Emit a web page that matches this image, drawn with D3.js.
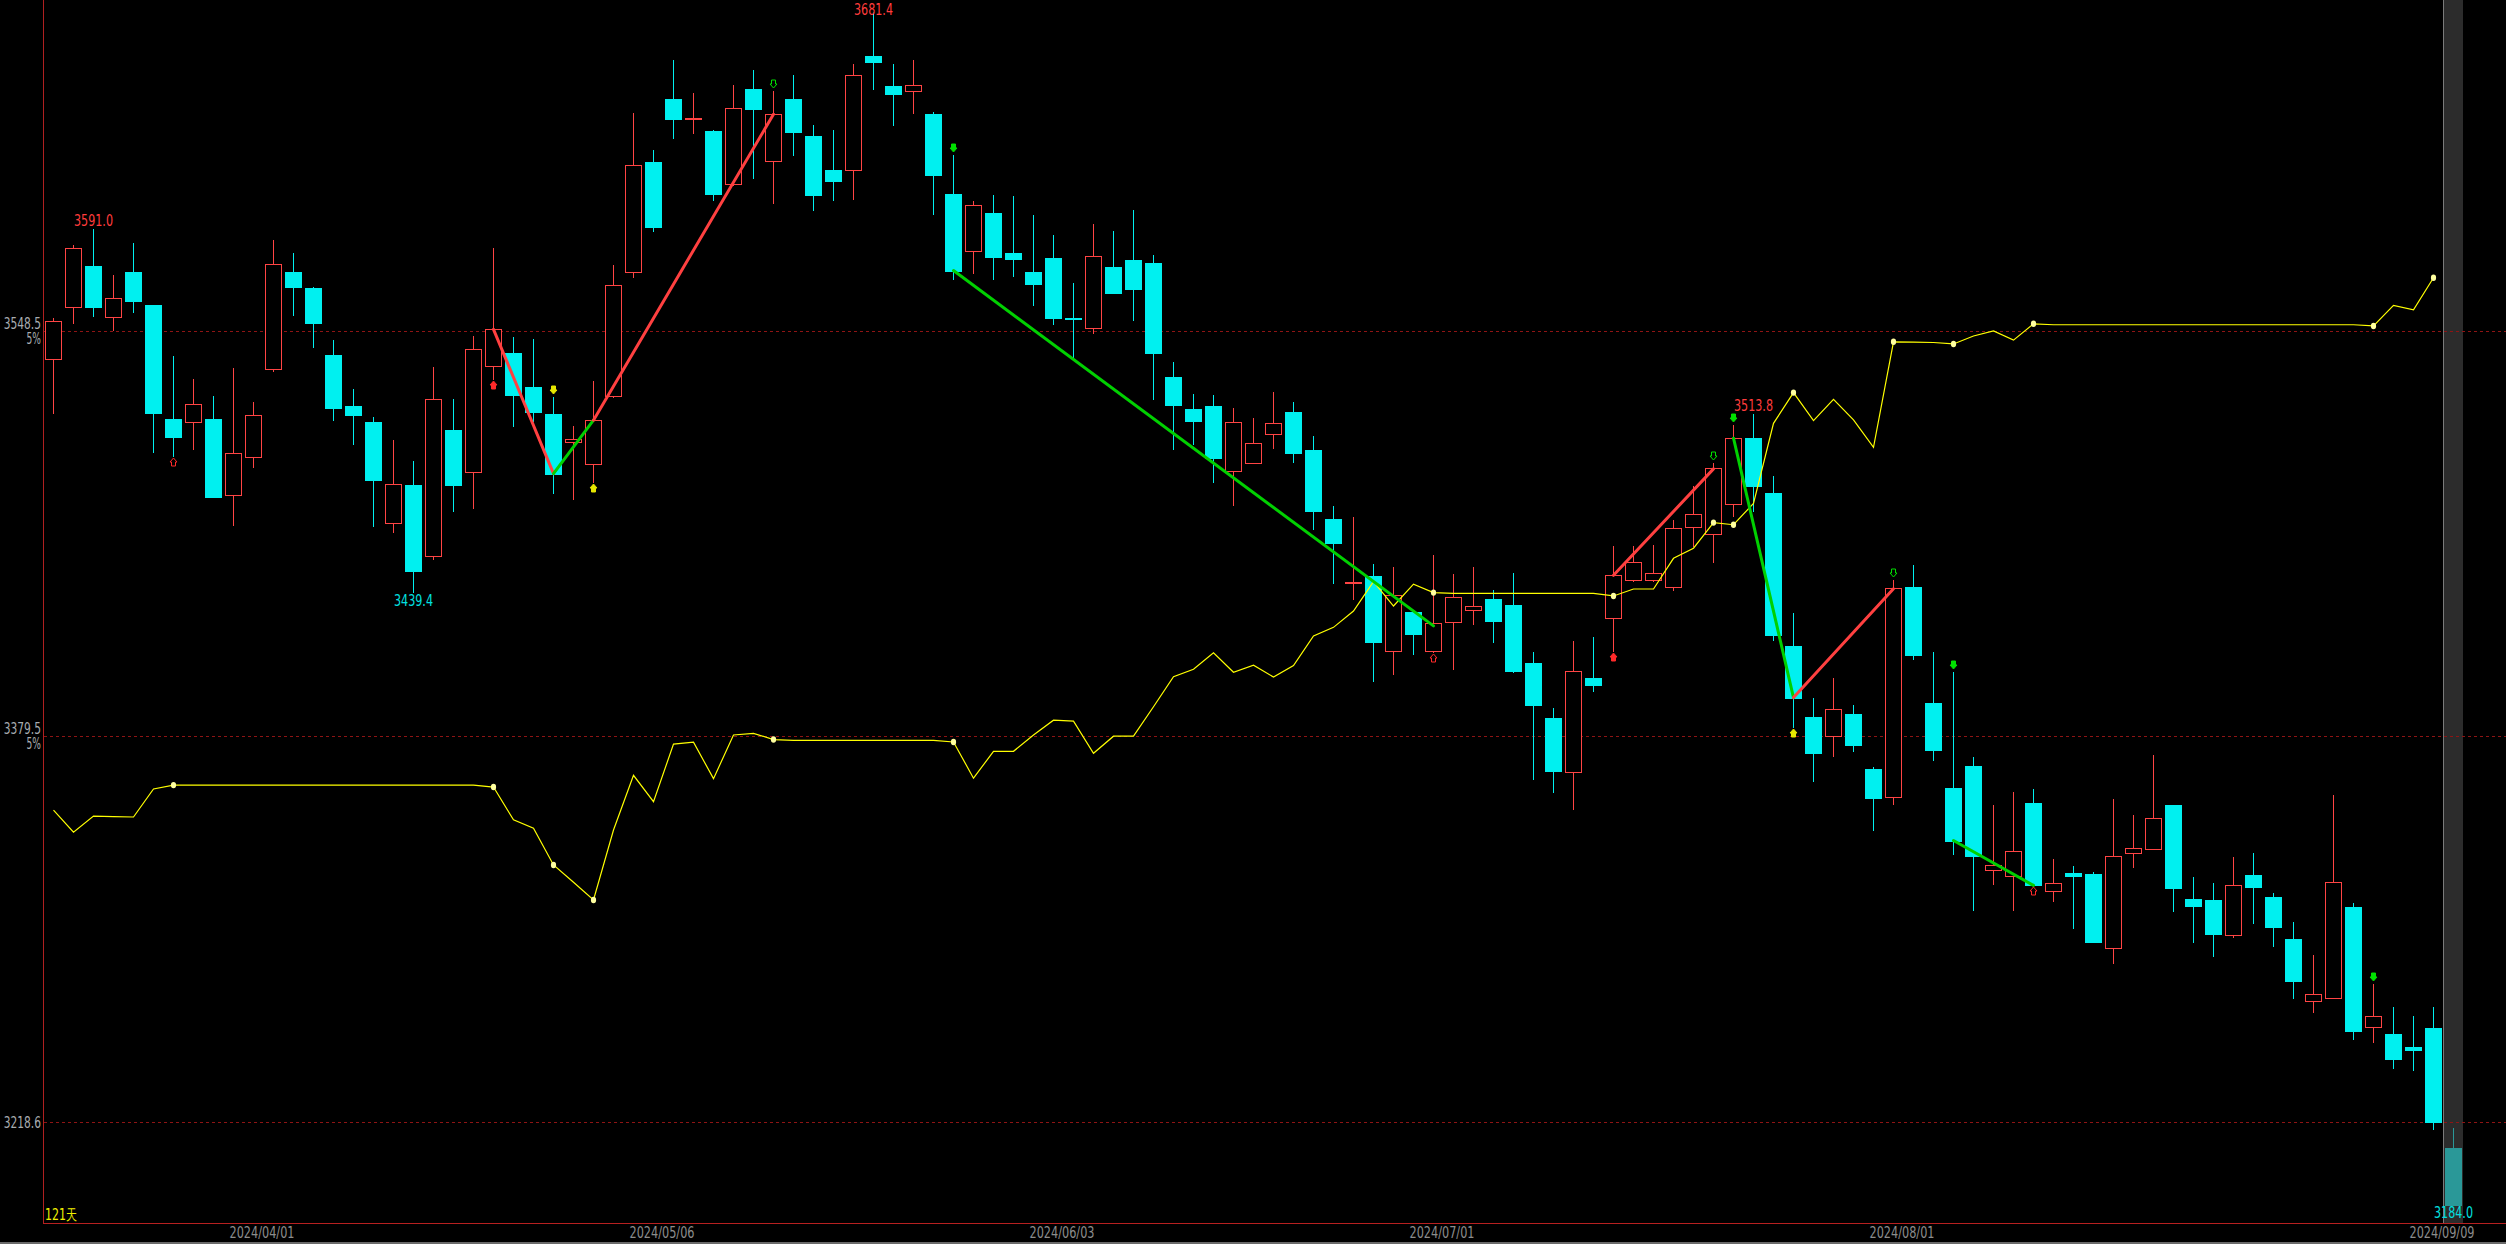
<!DOCTYPE html>
<html>
<head>
<meta charset="utf-8">
<script src="https://cdnjs.cloudflare.com/ajax/libs/d3/7.8.5/d3.min.js"></script>
<style>
  html, body { margin: 0; padding: 0; background: #000; overflow: hidden; }
  text { font-family: "DejaVu Sans", "Liberation Sans", sans-serif; }
</style>
</head>
<body>
<script>
const w = 2506;
const h = 1244;

// 121 trading days, 2024/03/15 .. 2024/09/09
const dates = [
  "2024/03/15","2024/03/18","2024/03/19","2024/03/20","2024/03/21","2024/03/22","2024/03/25","2024/03/26","2024/03/27","2024/03/28","2024/03/29",
  "2024/04/01","2024/04/02","2024/04/03","2024/04/08","2024/04/09","2024/04/10","2024/04/11","2024/04/12","2024/04/15","2024/04/16",
  "2024/04/17","2024/04/18","2024/04/19","2024/04/22","2024/04/23","2024/04/24","2024/04/25","2024/04/26","2024/04/29","2024/04/30",
  "2024/05/06","2024/05/07","2024/05/08","2024/05/09","2024/05/10","2024/05/13","2024/05/14","2024/05/15","2024/05/16","2024/05/17",
  "2024/05/20","2024/05/21","2024/05/22","2024/05/23","2024/05/24","2024/05/27","2024/05/28","2024/05/29","2024/05/30","2024/05/31",
  "2024/06/03","2024/06/04","2024/06/05","2024/06/06","2024/06/07","2024/06/11","2024/06/12","2024/06/13","2024/06/14","2024/06/17",
  "2024/06/18","2024/06/19","2024/06/20","2024/06/21","2024/06/24","2024/06/25","2024/06/26","2024/06/27","2024/06/28",
  "2024/07/01","2024/07/02","2024/07/03","2024/07/04","2024/07/05","2024/07/08","2024/07/09","2024/07/10","2024/07/11","2024/07/12",
  "2024/07/15","2024/07/16","2024/07/17","2024/07/18","2024/07/19","2024/07/22","2024/07/23","2024/07/24","2024/07/25","2024/07/26",
  "2024/07/29","2024/07/30","2024/07/31",
  "2024/08/01","2024/08/02","2024/08/05","2024/08/06","2024/08/07","2024/08/08","2024/08/09","2024/08/12","2024/08/13","2024/08/14",
  "2024/08/15","2024/08/16","2024/08/19","2024/08/20","2024/08/21","2024/08/22","2024/08/23","2024/08/26","2024/08/27","2024/08/28",
  "2024/08/29","2024/08/30",
  "2024/09/02","2024/09/03","2024/09/04","2024/09/05","2024/09/06","2024/09/09"
];

const open = [
  3536.7,3558.4,3575.6,3554.2,3573.1,3559.3,3511.8,3510.4,3511.8,3480.0,3495.8,3532.5,3573.1,3566.5,3538.5,3517.2,3510.6,3468.4,3484.2,3454.5,
  3507.3,3489.7,3534.0,3539.3,3525.1,3513.9,3502.2,3493.0,3521.3,3573.3,3618.9,3645.3,3636.9,3631.9,3610.0,3649.4,3619.3,3645.3,3629.8,3615.6,
  3615.5,3663.1,3650.7,3648.5,3639.0,3605.6,3581.8,3597.7,3581.0,3573.1,3579.0,3554.1,3549.7,3575.2,3578.0,3576.9,3529.4,3516.0,3517.2,3490.2,
  3493.6,3505.6,3514.7,3498.9,3470.0,3443.2,3446.3,3415.2,3431.3,3415.2,3427.3,3432.3,3436.7,3434.2,3410.1,3387.1,3364.5,3403.7,3428.7,3444.8,
  3444.8,3441.9,3466.6,3463.7,3476.5,3503.8,3480.8,3417.1,3387.4,3379.7,3388.8,3365.9,3354.3,3441.7,3393.3,3357.8,3367.1,3323.6,3321.4,3351.6,
  3314.9,3322.5,3322.1,3291.2,3330.7,3332.6,3350.8,3311.7,3311.1,3296.5,3321.6,3312.5,3295.0,3269.0,3270.5,3308.3,3258.1,3255.1,3250.0,3257.8,
  3207.8
];
const high = [
  3553.9,3584.4,3591.0,3571.9,3585.2,3559.3,3538.1,3528.5,3521.4,3532.9,3518.9,3586.4,3581.0,3566.8,3544.7,3524.3,3512.6,3503.2,3494.4,3533.5,
  3520.1,3546.4,3583.2,3546.0,3545.2,3520.8,3508.9,3527.6,3576.1,3639.4,3624.0,3661.5,3647.6,3632.2,3651.1,3657.5,3648.6,3655.2,3634.4,3632.3,
  3659.8,3681.4,3659.8,3661.5,3639.8,3621.9,3602.9,3605.2,3604.8,3596.7,3588.4,3568.5,3593.0,3590.2,3599.0,3580.2,3535.5,3522.3,3521.8,3516.3,
  3512.2,3523.1,3518.9,3504.7,3475.5,3470.9,3451.3,3450.1,3431.5,3455.1,3447.2,3450.1,3440.5,3447.6,3414.6,3391.3,3419.2,3420.9,3458.7,3458.7,
  3459.3,3469.7,3483.9,3493.3,3509.3,3513.8,3488.0,3430.8,3395.3,3403.7,3392.5,3366.7,3444.5,3450.8,3414.6,3406.1,3370.8,3350.8,3356.3,3357.3,
  3328.2,3325.4,3322.7,3353.3,3346.7,3371.7,3351.0,3320.8,3318.4,3329.2,3330.9,3314.3,3302.1,3288.3,3355.0,3309.8,3276.0,3266.5,3262.9,3266.5,
  3216.1
];
const low = [
  3514.0,3551.5,3554.5,3548.6,3556.1,3497.7,3496.1,3499.0,3479.0,3467.3,3491.5,3531.5,3554.9,3541.4,3511.1,3501.0,3466.9,3464.4,3439.4,3453.2,
  3473.1,3474.3,3528.2,3508.5,3510.6,3480.7,3477.9,3485.0,3520.5,3570.6,3589.6,3628.6,3630.5,3602.9,3609.0,3611.7,3601.6,3621.6,3598.7,3602.9,
  3603.3,3649.0,3633.8,3639.2,3597.0,3569.9,3572.4,3569.9,3571.1,3558.8,3551.2,3536.8,3547.2,3564.0,3552.5,3519.6,3498.9,3501.0,3485.0,3475.5,
  3493.3,3499.4,3493.6,3465.6,3442.8,3436.2,3402.3,3405.0,3413.4,3414.4,3407.1,3426.0,3418.5,3406.0,3361.3,3356.0,3348.9,3398.1,3414.8,3443.7,
  3443.7,3440.2,3458.6,3451.9,3471.1,3473.1,3419.4,3382.8,3360.5,3370.7,3373.1,3340.1,3351.0,3411.4,3369.0,3330.1,3306.4,3317.6,3306.8,3317.0,
  3310.2,3299.0,3293.1,3284.7,3324.4,3332.3,3306.0,3293.1,3287.6,3295.4,3301.0,3291.7,3269.7,3264.2,3269.9,3253.0,3251.7,3240.9,3239.7,3215.1,
  3184.0
];
const close = [
  3552.5,3583.0,3558.6,3562.1,3561.1,3514.4,3504.4,3517.9,3479.4,3497.5,3513.3,3576.3,3567.0,3552.0,3516.5,3513.6,3486.5,3484.5,3448.6,3520.0,
  3484.4,3540.8,3549.2,3522.0,3514.9,3489.0,3503.5,3511.3,3567.6,3617.6,3592.0,3637.1,3637.4,3605.7,3641.5,3640.9,3638.9,3631.3,3605.4,3611.2,
  3655.2,3660.5,3647.5,3651.1,3613.4,3573.7,3601.0,3579.5,3578.7,3568.3,3554.1,3553.3,3579.7,3564.5,3566.1,3539.5,3517.8,3510.9,3495.7,3510.4,
  3501.7,3510.1,3497.6,3473.5,3460.1,3443.8,3418.8,3438.4,3422.1,3426.6,3437.5,3433.8,3427.7,3406.7,3392.5,3365.1,3406.6,3401.0,3446.6,3452.2,
  3447.5,3466.2,3472.2,3491.4,3503.8,3483.9,3421.7,3395.6,3372.6,3390.7,3376.0,3353.9,3441.2,3413.5,3373.6,3336.0,3329.4,3325.6,3331.8,3317.6,
  3318.1,3321.4,3293.8,3329.4,3332.8,3345.3,3316.4,3308.5,3296.9,3317.4,3316.8,3300.1,3277.2,3271.8,3318.9,3256.4,3262.7,3244.7,3248.5,3218.5,
  3184.0
];

// yellow indicator line (candles 0..119), plotted on the price scale
const lineVals = [
  3348.7,3339.5,3346.2,3346.0,3345.8,3357.5,3359.1,3359.1,3359.1,3359.1,3359.1,3359.1,3359.1,3359.1,3359.1,3359.1,3359.1,3359.1,3359.1,3359.1,
  3359.1,3359.1,3358.3,3344.6,3341.1,3325.8,3318.6,3311.2,3340.4,3363.2,3352.2,3376.2,3377.0,3361.8,3380.0,3380.7,3378.1,3377.8,3377.8,3377.8,
  3377.8,3377.8,3377.8,3377.8,3377.8,3377.1,3362.0,3373.2,3373.2,3380.0,3386.2,3385.8,3372.4,3379.5,3379.5,3391.8,3404.3,3407.4,3414.3,3406.2,
  3409.1,3404.2,3409.0,3421.3,3424.9,3431.7,3444.0,3433.8,3442.9,3439.4,3439.1,3439.1,3439.1,3439.1,3439.1,3439.1,3439.1,3439.1,3438.0,3440.9,
  3440.9,3453.7,3457.9,3468.6,3467.7,3476.6,3510.0,3522.8,3511.1,3520.0,3511.4,3500.0,3544.0,3543.9,3543.7,3543.1,3546.4,3548.5,3544.7,3551.5,
  3551.1,3551.1,3551.1,3551.1,3551.1,3551.1,3551.1,3551.1,3551.1,3551.1,3551.1,3551.1,3551.1,3551.1,3551.1,3551.1,3550.6,3559.2,3557.3,3570.7
];
const lineDots = [6, 22, 25, 27, 36, 45, 69, 78, 83, 84, 87, 92, 95, 99, 116, 119];

// zigzag segments
const zigFrom    = [22, 25, 27, 45, 78, 84, 87, 95];
const zigTo      = [25, 27, 36, 69, 83, 87, 92, 99];
const zigFromVal = [3549.2, 3489.0, 3511.3, 3573.7, 3446.6, 3503.8, 3395.6, 3336.0];
const zigToVal   = [3489.0, 3511.3, 3638.9, 3425.5, 3491.0, 3395.6, 3441.0, 3317.3];

// signal arrows
const markIdx  = [6, 22, 25, 27, 36, 45, 69, 78, 83, 84, 87, 92, 95, 99, 116];
const markKind = ["redOpenUp","redUp","yellowDown","yellowUp","greenOpenDown","greenDown","redOpenUp","redUp",
                  "greenOpenDown","greenDown","yellowUp","greenOpenDown","greenDown","redOpenUp","greenDown"];

// price annotations
const annotIdx  = [2, 41, 85, 18, 120];
const annotSide = ["high", "high", "high", "low", "low"];

// axes
const yTicks   = [3548.5, 3379.5, 3218.6];
const yTickSub = ["5%", "5%", ""];
const xTicks   = ["2024/04/01", "2024/05/06", "2024/06/03", "2024/07/01", "2024/08/01", "2024/09/09"];
const dayCount = "121天";

const UP = "#ff4444", DOWN = "#00f0f0", HILITE = "#2a9898";

const xScale = d3.scaleBand().domain(dates).range([43, 2463]);
const yScale = d3.scaleLinear().domain([3548.5, 3218.6]).range([331, 1122]);
const cx = (i) => xScale(dates[i]) + 10.5;
const py = (v) => Math.round(yScale(v));
// squeeze text into a narrow face
const narrow = (sel, per) => sel.attr("textLength", function() { return this.textContent.length * per; })
                                .attr("lengthAdjust", "spacingAndGlyphs");

const candles = dates.map((d, i) => ({date: d, i: i, o: open[i], h: high[i], l: low[i], c: close[i]}));

const svg = d3.select("body")
              .append("svg")
              .attr("width", w)
              .attr("height", h)
              .style("display", "block")
              .style("background", "#000");

// cursor column on the last day
const lastX = xScale(dates[dates.length - 1]);
svg.append("rect")
   .attr("x", lastX).attr("y", 0)
   .attr("width", 20).attr("height", 1223)
   .attr("fill", "#2c2c2c");
svg.append("line")
   .attr("x1", lastX + 0.5).attr("x2", lastX + 0.5)
   .attr("y1", 0).attr("y2", 1223)
   .attr("stroke", "#7a7a7a");

// dashed price levels
svg.selectAll(".grid")
   .data(yTicks)
   .enter()
   .append("line")
   .attr("class", "grid")
   .attr("x1", 44).attr("x2", w)
   .attr("y1", d => py(d) + 0.5).attr("y2", d => py(d) + 0.5)
   .attr("stroke", "#8e1414")
   .attr("stroke-dasharray", "3,3");

svg.selectAll(".ylab")
   .data(yTicks)
   .enter()
   .append("text")
   .attr("class", "ylab")
   .attr("x", 41)
   .attr("y", (d, i) => yTickSub[i] ? py(d) - 2 : py(d) + 6)
   .attr("text-anchor", "end")
   .attr("fill", "#a8acb0")
   .style("font-size", "15px")
   .text(d => d.toFixed(1))
   .call(narrow, 6.2);

svg.selectAll(".ysub")
   .data(yTicks.filter((d, i) => yTickSub[i]))
   .enter()
   .append("text")
   .attr("class", "ysub")
   .attr("x", 41)
   .attr("y", d => py(d) + 13)
   .attr("text-anchor", "end")
   .attr("fill", "#a8acb0")
   .style("font-size", "15px")
   .text((d, i) => yTickSub[i])
   .call(narrow, 7.2);

// candles
const g = svg.append("g");
candles.forEach(function(d) {
  const x0 = xScale(d.date);
  const last = d.i === dates.length - 1;
  const up = d.c > d.o;
  const col = last ? HILITE : (up ? UP : DOWN);
  const top = py(Math.max(d.o, d.c)), bot = py(Math.min(d.o, d.c));
  g.append("line")
   .attr("x1", x0 + 10.5).attr("x2", x0 + 10.5)
   .attr("y1", py(d.h)).attr("y2", top)
   .attr("stroke", col);
  g.append("line")
   .attr("x1", x0 + 10.5).attr("x2", x0 + 10.5)
   .attr("y1", bot).attr("y2", py(d.l))
   .attr("stroke", col);
  if (up) {
    g.append("rect")
     .attr("x", x0 + 2.5).attr("y", top + 0.5)
     .attr("width", 16).attr("height", Math.max(1, bot - top))
     .attr("fill", "#000")
     .attr("stroke", col);
  } else {
    g.append("rect")
     .attr("x", x0 + 2).attr("y", top)
     .attr("width", 17).attr("height", Math.max(2, bot - top + 1))
     .attr("fill", col);
  }
});

// yellow indicator
const line = d3.line()
               .x((d, i) => cx(i))
               .y(d => yScale(d));
svg.append("path")
   .datum(lineVals)
   .attr("d", line)
   .attr("fill", "none")
   .attr("stroke", "#ffff00")
   .attr("stroke-width", 1.2);

// zigzag
svg.selectAll(".zig")
   .data(zigFrom)
   .enter()
   .append("line")
   .attr("class", "zig")
   .attr("x1", (d, i) => cx(d))
   .attr("y1", (d, i) => yScale(zigFromVal[i]))
   .attr("x2", (d, i) => cx(zigTo[i]))
   .attr("y2", (d, i) => yScale(zigToVal[i]))
   .attr("stroke", (d, i) => i % 2 === 0 ? "#ff4040" : "#00d000")
   .attr("stroke-width", 3)
   .attr("stroke-linecap", "round");

svg.selectAll(".dot")
   .data(lineDots)
   .enter()
   .append("ellipse")
   .attr("class", "dot")
   .attr("cx", d => cx(d))
   .attr("cy", d => yScale(lineVals[d]))
   .attr("rx", 2.6).attr("ry", 3.2)
   .attr("fill", "#ffffa0");

// arrows
function arrowPath(x, y, dir) {
  const s = dir;  // -1 points up, 1 points down
  return "M" + x + "," + (y + 4 * s) +
         "L" + (x + 3.5) + "," + y + "L" + (x + 2) + "," + y +
         "L" + (x + 2) + "," + (y - 4 * s) + "L" + (x - 2) + "," + (y - 4 * s) +
         "L" + (x - 2) + "," + y + "L" + (x - 3.5) + "," + y + "Z";
}
const kindColor = {red: "#ff2a2a", yellow: "#e6e600", green: "#00e000"};
svg.selectAll(".arrow")
   .data(markIdx)
   .enter()
   .append("path")
   .attr("class", "arrow")
   .attr("d", function(d, i) {
     const k = markKind[i];
     const down = k.endsWith("Down");
     const y = down ? py(high[d]) - 7 : py(low[d]) + 5;
     return arrowPath(cx(d), y, down ? 1 : -1);
   })
   .attr("fill", (d, i) => markKind[i].includes("Open") ? "none" : kindColor[markKind[i].match(/^[a-z]+/)[0]])
   .attr("stroke", (d, i) => kindColor[markKind[i].match(/^[a-z]+/)[0]])
   .attr("stroke-width", 1);

// high / low annotations (kept inside the top edge)
svg.selectAll(".annot")
   .data(annotIdx)
   .enter()
   .append("text")
   .attr("class", "annot")
   .attr("x", d => cx(d))
   .attr("y", (d, i) => annotSide[i] === "high" ? Math.max(15, py(high[d]) - 3) : py(low[d]) + 13)
   .attr("text-anchor", "middle")
   .attr("fill", (d, i) => annotSide[i] === "high" ? "#ff3c3c" : "#00e0e0")
   .style("font-size", "15px")
   .text((d, i) => (annotSide[i] === "high" ? high[d] : low[d]).toFixed(1))
   .call(narrow, 6.5);

// frame
svg.append("line")
   .attr("x1", 43.5).attr("x2", 43.5).attr("y1", 0).attr("y2", 1223)
   .attr("stroke", "#b02020");
svg.append("line")
   .attr("x1", 43).attr("x2", w).attr("y1", 1223.5).attr("y2", 1223.5)
   .attr("stroke", "#b82020");
svg.append("line")
   .attr("x1", 0).attr("x2", w).attr("y1", 1243).attr("y2", 1243)
   .attr("stroke", "#6a6a6a").attr("stroke-width", 2);

svg.selectAll(".xlab")
   .data(xTicks)
   .enter()
   .append("text")
   .attr("class", "xlab")
   .attr("x", d => xScale(d) + 10 - 11)
   .attr("y", 1238)
   .attr("text-anchor", "middle")
   .attr("fill", "#8c8c8c")
   .style("font-size", "15px")
   .text(d => d)
   .call(narrow, 6.5);

svg.append("text")
   .attr("x", 45)
   .attr("y", 1220)
   .attr("fill", "#f0f000")
   .style("font-size", "15px")
   .text(dayCount)
   .attr("textLength", 32)
   .attr("lengthAdjust", "spacingAndGlyphs");
</script>
</body>
</html>
